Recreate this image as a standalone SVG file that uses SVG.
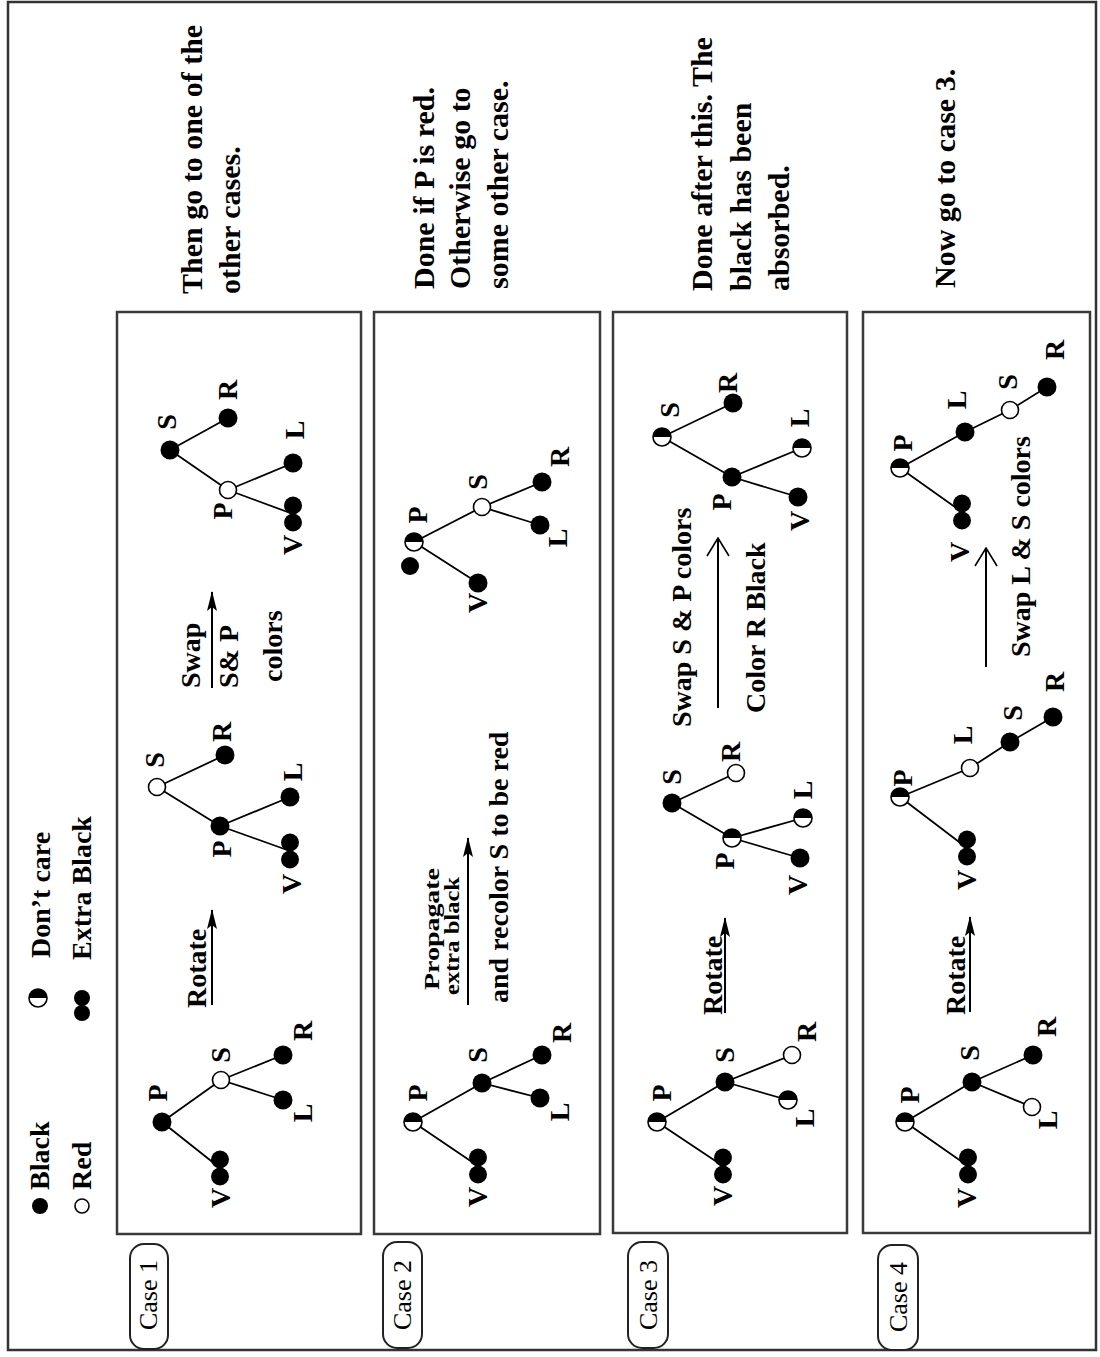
<svg xmlns="http://www.w3.org/2000/svg" xmlns:xlink="http://www.w3.org/1999/xlink" width="1100" height="1357" viewBox="0 0 1100 1357">
<style>
.t{font-family:"Liberation Serif","Times New Roman",serif;font-weight:bold;font-size:28px;fill:#000}
.n{font-family:"Liberation Serif","Times New Roman",serif;font-weight:bold;font-size:28px;fill:#000;text-anchor:middle}
.note{font-family:"Liberation Serif","Times New Roman",serif;font-weight:bold;font-size:30px;fill:#000}
.small{font-family:"Liberation Serif","Times New Roman",serif;font-weight:bold;font-size:21px;fill:#000}
.cs{font-family:"Liberation Serif","Times New Roman",serif;font-size:26px;fill:#000;text-anchor:middle}
.box{fill:none;stroke:#3a3a3a;stroke-width:2.5}
.cbox{fill:#fff;stroke:#222;stroke-width:2}
.e{stroke:#000;stroke-width:1.8;fill:none}
.ar{stroke:#000;stroke-width:2;fill:none}
.bk{fill:#000}
.rd{fill:#fff;stroke:#000;stroke-width:1.6}
</style>
<defs>
<marker id="ah" viewBox="0 0 20 10" refX="19" refY="5" markerWidth="20" markerHeight="10" markerUnits="userSpaceOnUse" orient="auto"><path d="M0,0 L20,5 L0,10 L4,5 z" fill="#000"/></marker>
<marker id="ao" viewBox="0 0 20 24" refX="19" refY="12" markerWidth="20" markerHeight="24" markerUnits="userSpaceOnUse" orient="auto"><path d="M1,1 L19,12 L1,23" fill="none" stroke="#000" stroke-width="1.6"/></marker>
<circle id="b" r="9.5" class="bk"/>
<circle id="r" r="8.5" class="rd"/>
<g id="dc"><circle r="9" fill="#fff" stroke="#000" stroke-width="1.6"/><path d="M-9,0 A9,9 0 0 1 9,0 Z" fill="#000"/></g>
<g id="xb" class="bk"><circle cy="-8.5" r="9"/><circle cy="8.5" r="9"/></g>
</defs>
<rect width="1100" height="1357" fill="#fff"/>
<rect x="8" y="2" width="1088" height="1348" fill="none" stroke="#333" stroke-width="2.5"/>

<!-- legend -->
<g id="legend">
<circle cx="40" cy="1206" r="8" class="bk"/>
<text class="t" transform="translate(49,1190) rotate(-90)">Black</text>
<circle cx="82" cy="1206" r="7" class="rd"/>
<text class="t" transform="translate(91,1190) rotate(-90)">Red</text>
<use xlink:href="#dc" x="38" y="998"/>
<text class="t" transform="translate(50,958) rotate(-90)">Don’t care</text>
<g class="bk"><circle cx="82" cy="998" r="8"/><circle cx="82" cy="1013" r="8"/></g>
<text class="t" transform="translate(91,960) rotate(-90)">Extra Black</text>
</g>

<!-- case boxes and labels -->
<g id="case1-box"><rect class="box" x="117" y="312" width="244" height="922"/>
<rect class="cbox" x="130" y="1244" width="38" height="105" rx="14"/>
<text class="cs" transform="translate(157,1295) rotate(-90)">Case 1</text></g>
<g id="case2-box"><rect class="box" x="374" y="312" width="226" height="922"/>
<rect class="cbox" x="383" y="1242" width="39" height="106" rx="14"/>
<text class="cs" transform="translate(411,1295) rotate(-90)">Case 2</text></g>
<g id="case3-box"><rect class="box" x="613" y="312" width="234" height="921"/>
<rect class="cbox" x="628" y="1242" width="40" height="106" rx="14"/>
<text class="cs" transform="translate(657,1295) rotate(-90)">Case 3</text></g>
<g id="case4-box"><rect class="box" x="863" y="312" width="227" height="921"/>
<rect class="cbox" x="878" y="1245" width="40" height="105" rx="14"/>
<text class="cs" transform="translate(907,1297) rotate(-90)">Case 4</text></g>

<!-- notes -->
<g id="note1"><text class="note" transform="translate(202,294) rotate(-90)">Then go to one of the</text>
<text class="note" transform="translate(240,294) rotate(-90)">other cases.</text></g>
<g id="note2"><text class="note" transform="translate(434,289) rotate(-90)">Done if P is red.</text>
<text class="note" transform="translate(470,289) rotate(-90)">Otherwise go to</text>
<text class="note" transform="translate(508,289) rotate(-90)">some other case.</text></g>
<g id="note3"><text class="note" transform="translate(712,291) rotate(-90)">Done after this. The</text>
<text class="note" transform="translate(751,291) rotate(-90)">black has been</text>
<text class="note" transform="translate(789,291) rotate(-90)">absorbed.</text></g>
<g id="note4"><text class="note" transform="translate(955,288) rotate(-90)">Now go to case 3.</text></g>

<!-- connectors -->
<g id="connectors">
<!-- case 1 -->
<path class="e" d="M162,1122 L221,1080 M162,1122 L220,1168 M221,1080 L283,1100 M221,1080 L283,1055"/>
<path class="e" d="M157,787 L220,826 M157,787 L225,755 M220,826 L290,797 M220,826 L290,851"/>
<path class="e" d="M170,450 L228,418 M170,450 L228,490 M228,490 L293,463 M228,490 L293,514"/>
<line class="ar" x1="212" y1="1005" x2="212" y2="910" marker-end="url(#ah)"/>
<line class="ar" x1="212" y1="688" x2="212" y2="592" marker-end="url(#ah)"/>
<!-- case 2 -->
<path class="e" d="M413,1122 L482,1083 M413,1122 L478,1166 M482,1083 L540,1098 M482,1083 L542,1055"/>
<path class="e" d="M414,542 L482,507 M414,542 L478,583 M482,507 L540,525 M482,507 L542,482"/>
<line class="ar" x1="468" y1="1005" x2="468" y2="838" marker-end="url(#ah)"/>
<!-- case 3 -->
<path class="e" d="M657,1122 L725,1082 M657,1122 L723,1166 M725,1082 L788,1100 M725,1082 L792,1055"/>
<path class="e" d="M672,803 L736,773 M672,803 L732,838 M732,838 L803,818 M732,838 L800,858"/>
<path class="e" d="M662,437 L733,403 M662,437 L732,477 M732,477 L802,448 M732,477 L798,497"/>
<line class="ar" x1="725" y1="1013" x2="725" y2="918" marker-end="url(#ah)"/>
<line class="ar" x1="718" y1="708" x2="718" y2="538" marker-end="url(#ao)"/>
<!-- case 4 -->
<path class="e" d="M905,1122 L972,1082 M905,1122 L968,1166 M972,1082 L1032,1107 M972,1082 L1033,1055"/>
<path class="e" d="M900,797 L967,848 M900,797 L970,768 M970,768 L1010,742 M1010,742 L1053,717"/>
<path class="e" d="M900,468 L962,512 M900,468 L965,432 M965,432 L1010,410 M1010,410 L1047,387"/>
<line class="ar" x1="970" y1="1012" x2="970" y2="917" marker-end="url(#ah)"/>
<line class="ar" x1="986" y1="667" x2="986" y2="548" marker-end="url(#ao)"/>
</g>

<!-- arrow labels -->
<g id="labels">
<text class="t" transform="translate(206,1008) rotate(-90)">Rotate</text>
<text class="t" transform="translate(200,688) rotate(-90)">Swap</text>
<text class="t" transform="translate(238,688) rotate(-90)">S&amp; P</text>
<text class="t" transform="translate(282,682) rotate(-90)">colors</text>
<text class="small" transform="translate(439,990) rotate(-90)" textLength="122" lengthAdjust="spacingAndGlyphs">Propagate</text>
<text class="small" transform="translate(459,995) rotate(-90)" textLength="118" lengthAdjust="spacingAndGlyphs">extra black</text>
<text class="t" transform="translate(508,1003) rotate(-90)">and recolor S to be red</text>
<text class="t" transform="translate(722,1015) rotate(-90)">Rotate</text>
<text class="t" transform="translate(691,727) rotate(-90)">Swap S &amp; P colors</text>
<text class="t" transform="translate(765,713) rotate(-90)">Color R Black</text>
<text class="t" transform="translate(965,1015) rotate(-90)">Rotate</text>
<text class="t" transform="translate(1030,657) rotate(-90)">Swap L &amp; S colors</text>
</g>

<!-- case 1 nodes -->
<g id="c1a-P"><use xlink:href="#b" x="162" y="1122"/><text class="n" transform="translate(167,1093) rotate(-90)">P</text></g>
<g id="c1a-S"><use xlink:href="#r" x="221" y="1080"/><text class="n" transform="translate(230,1055) rotate(-90)">S</text></g>
<g id="c1a-V"><use xlink:href="#xb" x="220" y="1168"/><text class="n" transform="translate(230,1198) rotate(-90)">V</text></g>
<g id="c1a-L"><use xlink:href="#b" x="283" y="1100"/><text class="n" transform="translate(312,1113) rotate(-90)">L</text></g>
<g id="c1a-R"><use xlink:href="#b" x="283" y="1055"/><text class="n" transform="translate(312,1031) rotate(-90)">R</text></g>

<g id="c1b-S"><use xlink:href="#r" x="157" y="787"/><text class="n" transform="translate(164,760) rotate(-90)">S</text></g>
<g id="c1b-P"><use xlink:href="#b" x="220" y="826"/><text class="n" transform="translate(231,849) rotate(-90)">P</text></g>
<g id="c1b-R"><use xlink:href="#b" x="225" y="755"/><text class="n" transform="translate(231,732) rotate(-90)">R</text></g>
<g id="c1b-L"><use xlink:href="#b" x="290" y="797"/><text class="n" transform="translate(302,772) rotate(-90)">L</text></g>
<g id="c1b-V"><use xlink:href="#xb" x="290" y="851"/><text class="n" transform="translate(301,884) rotate(-90)">V</text></g>

<g id="c1c-S"><use xlink:href="#b" x="170" y="450"/><text class="n" transform="translate(176,422) rotate(-90)">S</text></g>
<g id="c1c-R"><use xlink:href="#b" x="228" y="418"/><text class="n" transform="translate(237,390) rotate(-90)">R</text></g>
<g id="c1c-P"><use xlink:href="#r" x="228" y="490"/><text class="n" transform="translate(232,511) rotate(-90)">P</text></g>
<g id="c1c-L"><use xlink:href="#b" x="293" y="463"/><text class="n" transform="translate(304,430) rotate(-90)">L</text></g>
<g id="c1c-V"><use xlink:href="#xb" x="293" y="514"/><text class="n" transform="translate(302,545) rotate(-90)">V</text></g>

<!-- case 2 nodes -->
<g id="c2a-P"><use xlink:href="#dc" x="413" y="1122"/><text class="n" transform="translate(427,1093) rotate(-90)">P</text></g>
<g id="c2a-S"><use xlink:href="#b" x="482" y="1083"/><text class="n" transform="translate(487,1055) rotate(-90)">S</text></g>
<g id="c2a-V"><use xlink:href="#xb" x="478" y="1166"/><text class="n" transform="translate(487,1197) rotate(-90)">V</text></g>
<g id="c2a-L"><use xlink:href="#b" x="540" y="1098"/><text class="n" transform="translate(569,1112) rotate(-90)">L</text></g>
<g id="c2a-R"><use xlink:href="#b" x="542" y="1055"/><text class="n" transform="translate(571,1033) rotate(-90)">R</text></g>

<g id="c2b-P"><circle cx="410" cy="566" r="9" class="bk"/><use xlink:href="#dc" x="414" y="542"/><text class="n" transform="translate(427,515) rotate(-90)">P</text></g>
<g id="c2b-S"><use xlink:href="#r" x="482" y="507"/><text class="n" transform="translate(487,482) rotate(-90)">S</text></g>
<g id="c2b-V"><use xlink:href="#b" x="478" y="583"/><text class="n" transform="translate(487,603) rotate(-90)">V</text></g>
<g id="c2b-L"><use xlink:href="#b" x="540" y="525"/><text class="n" transform="translate(567,538) rotate(-90)">L</text></g>
<g id="c2b-R"><use xlink:href="#b" x="542" y="482"/><text class="n" transform="translate(569,457) rotate(-90)">R</text></g>

<!-- case 3 nodes -->
<g id="c3a-P"><use xlink:href="#dc" x="657" y="1122"/><text class="n" transform="translate(671,1093) rotate(-90)">P</text></g>
<g id="c3a-S"><use xlink:href="#b" x="725" y="1082"/><text class="n" transform="translate(734,1055) rotate(-90)">S</text></g>
<g id="c3a-V"><use xlink:href="#xb" x="723" y="1166"/><text class="n" transform="translate(732,1196) rotate(-90)">V</text></g>
<g id="c3a-L"><use xlink:href="#dc" x="788" y="1100"/><text class="n" transform="translate(814,1118) rotate(-90)">L</text></g>
<g id="c3a-R"><use xlink:href="#r" x="792" y="1055"/><text class="n" transform="translate(816,1032) rotate(-90)">R</text></g>

<g id="c3b-S"><use xlink:href="#b" x="672" y="803"/><text class="n" transform="translate(681,777) rotate(-90)">S</text></g>
<g id="c3b-R"><use xlink:href="#r" x="736" y="773"/><text class="n" transform="translate(740,752) rotate(-90)">R</text></g>
<g id="c3b-P"><use xlink:href="#dc" x="732" y="838"/><text class="n" transform="translate(734,861) rotate(-90)">P</text></g>
<g id="c3b-L"><use xlink:href="#dc" x="803" y="818"/><text class="n" transform="translate(812,790) rotate(-90)">L</text></g>
<g id="c3b-V"><use xlink:href="#b" x="800" y="858"/><text class="n" transform="translate(807,885) rotate(-90)">V</text></g>

<g id="c3c-S"><use xlink:href="#dc" x="662" y="437"/><text class="n" transform="translate(679,410) rotate(-90)">S</text></g>
<g id="c3c-R"><use xlink:href="#b" x="733" y="403"/><text class="n" transform="translate(737,383) rotate(-90)">R</text></g>
<g id="c3c-P"><use xlink:href="#b" x="732" y="477"/><text class="n" transform="translate(731,502) rotate(-90)">P</text></g>
<g id="c3c-L"><use xlink:href="#dc" x="802" y="448"/><text class="n" transform="translate(809,418) rotate(-90)">L</text></g>
<g id="c3c-V"><use xlink:href="#b" x="798" y="497"/><text class="n" transform="translate(809,521) rotate(-90)">V</text></g>

<!-- case 4 nodes -->
<g id="c4a-P"><use xlink:href="#dc" x="905" y="1122"/><text class="n" transform="translate(919,1095) rotate(-90)">P</text></g>
<g id="c4a-S"><use xlink:href="#b" x="972" y="1082"/><text class="n" transform="translate(979,1053) rotate(-90)">S</text></g>
<g id="c4a-V"><use xlink:href="#xb" x="968" y="1166"/><text class="n" transform="translate(976,1198) rotate(-90)">V</text></g>
<g id="c4a-L"><use xlink:href="#r" x="1032" y="1107"/><text class="n" transform="translate(1057,1120) rotate(-90)">L</text></g>
<g id="c4a-R"><use xlink:href="#b" x="1033" y="1055"/><text class="n" transform="translate(1056,1027) rotate(-90)">R</text></g>

<g id="c4b-P"><use xlink:href="#dc" x="900" y="797"/><text class="n" transform="translate(912,778) rotate(-90)">P</text></g>
<g id="c4b-V"><use xlink:href="#xb" x="967" y="848"/><text class="n" transform="translate(976,880) rotate(-90)">V</text></g>
<g id="c4b-L"><use xlink:href="#r" x="970" y="768"/><text class="n" transform="translate(972,735) rotate(-90)">L</text></g>
<g id="c4b-S"><use xlink:href="#b" x="1010" y="742"/><text class="n" transform="translate(1022,713) rotate(-90)">S</text></g>
<g id="c4b-R"><use xlink:href="#b" x="1053" y="717"/><text class="n" transform="translate(1064,682) rotate(-90)">R</text></g>

<g id="c4c-P"><use xlink:href="#dc" x="900" y="468"/><text class="n" transform="translate(912,443) rotate(-90)">P</text></g>
<g id="c4c-V"><use xlink:href="#xb" x="962" y="512"/><text class="n" transform="translate(969,552) rotate(-90)">V</text></g>
<g id="c4c-L"><use xlink:href="#b" x="965" y="432"/><text class="n" transform="translate(966,400) rotate(-90)">L</text></g>
<g id="c4c-S"><use xlink:href="#r" x="1010" y="410"/><text class="n" transform="translate(1017,382) rotate(-90)">S</text></g>
<g id="c4c-R"><use xlink:href="#b" x="1047" y="387"/><text class="n" transform="translate(1064,350) rotate(-90)">R</text></g>
</svg>
